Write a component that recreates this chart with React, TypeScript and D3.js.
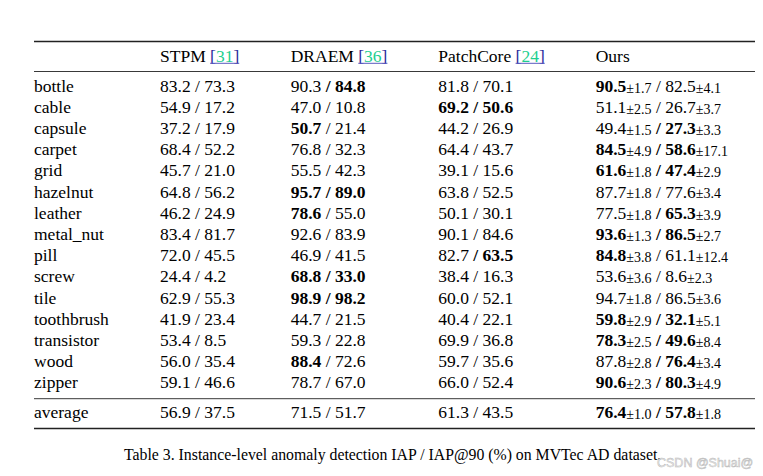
import React, { useEffect, useRef } from "react";
import * as d3 from "d3";

const categories = [
  "bottle", "cable", "capsule", "carpet", "grid", "hazelnut", "leather", "metal_nut",
  "pill", "screw", "tile", "toothbrush", "transistor", "wood", "zipper",
];
const averageLabel = "average";
const methods = ["STPM", "DRAEM", "PatchCore", "Ours"];
const citations = ["31", "36", "24", ""];

// last element of each array is the "average" row
const stpmIAP = [83.2, 54.9, 37.2, 68.4, 45.7, 64.8, 46.2, 83.4, 72.0, 24.4, 62.9, 41.9, 53.4, 56.0, 59.1, 56.9];
const stpmIAP90 = [73.3, 17.2, 17.9, 52.2, 21.0, 56.2, 24.9, 81.7, 45.5, 4.2, 55.3, 23.4, 8.5, 35.4, 46.6, 37.5];
const draemIAP = [90.3, 47.0, 50.7, 76.8, 55.5, 95.7, 78.6, 92.6, 46.9, 68.8, 98.9, 44.7, 59.3, 88.4, 78.7, 71.5];
const draemIAP90 = [84.8, 10.8, 21.4, 32.3, 42.3, 89.0, 55.0, 83.9, 41.5, 33.0, 98.2, 21.5, 22.8, 72.6, 67.0, 51.7];
const patchcoreIAP = [81.8, 69.2, 44.2, 64.4, 39.1, 63.8, 50.1, 90.1, 82.7, 38.4, 60.0, 40.4, 69.9, 59.7, 66.0, 61.3];
const patchcoreIAP90 = [70.1, 50.6, 26.9, 43.7, 15.6, 52.5, 30.1, 84.6, 63.5, 16.3, 52.1, 22.1, 36.8, 35.6, 52.4, 43.5];
const oursIAP = [90.5, 51.1, 49.4, 84.5, 61.6, 87.7, 77.5, 93.6, 84.8, 53.6, 94.7, 59.8, 78.3, 87.8, 90.6, 76.4];
const oursIAP90 = [82.5, 26.7, 27.3, 58.6, 47.4, 77.6, 65.3, 86.5, 61.1, 8.6, 86.5, 32.1, 49.6, 76.4, 80.3, 57.8];
const oursIAPStd = [1.7, 2.5, 1.5, 4.9, 1.8, 1.8, 1.8, 1.3, 3.8, 3.6, 1.8, 2.9, 2.5, 2.8, 2.3, 1.0];
const oursIAP90Std = [4.1, 3.7, 3.3, 17.1, 2.9, 3.4, 3.9, 2.7, 12.4, 2.3, 3.6, 5.1, 8.4, 3.4, 4.9, 1.8];

const caption = "Table 3. Instance-level anomaly detection IAP / IAP@90 (%) on MVTec AD dataset.";
const watermark = "CSDN @Shuai@";

const W = 763;
const H = 476;
const FONT = "'Liberation Serif', 'Times New Roman', serif";
const FS = 17.5;
const SUB_FS = 14;

export default function App() {
  const ref = useRef<SVGSVGElement | null>(null);

  useEffect(() => {
    const svg = d3.select(ref.current);
    svg.selectAll("*").remove();
    const g = svg.append("g").attr("font-family", FONT).attr("fill", "#000");

    const iap = [stpmIAP, draemIAP, patchcoreIAP, oursIAP];
    const iap90 = [stpmIAP90, draemIAP90, patchcoreIAP90, oursIAP90];
    const stds1: (number[] | null)[] = [null, null, null, oursIAPStd];
    const stds2: (number[] | null)[] = [null, null, null, oursIAP90Std];

    const rows = [...categories, averageLabel];
    const y = d3.scalePoint<string>().domain(categories).range([91.7, 388.3]);
    const rowY = (r: string) => (r === averageLabel ? 418 : (y(r) as number));
    const x = d3.scaleOrdinal<string, number>().domain(methods).range([160, 290.7, 438.3, 595.7]);
    const labelX = 34;

    const xl = 34, xr = 755;
    const rule = (yy: number, w: number) =>
      g.append("line").attr("x1", xl).attr("x2", xr).attr("y1", yy).attr("y2", yy)
        .attr("stroke", "#222").attr("stroke-width", w);
    rule(41.5, 1.4);
    rule(71.5, 0.9);
    rule(398.7, 0.9);
    rule(428.5, 1.4);

    // header
    methods.forEach((m, j) => {
      const cite = citations[j];
      const t = g.append("text").attr("x", x(m)).attr("y", 61.5).attr("font-size", FS)
        .style("white-space", "pre");
      t.append("tspan").text(cite ? m + " " : m);
      if (cite) {
        t.append("tspan").attr("fill", "#2b2b9b").text("[");
        t.append("tspan").attr("fill", "#1fcf8f").text(cite);
        t.append("tspan").attr("fill", "#2b2b9b").text("]");
        const node = t.node() as SVGTextElement;
        const n = m.length + 1;
        const x0 = node.getStartPositionOfChar(n).x;
        const x1 = node.getEndPositionOfChar(n + cite.length + 1).x;
        g.append("line").attr("x1", x0).attr("x2", x1).attr("y1", 63.3).attr("y2", 63.3)
          .attr("stroke", "#5a5ac0").attr("stroke-width", 1);
      }
    });

    // body
    rows.forEach((r, i) => {
      const yy = rowY(r);
      g.append("text").attr("x", labelX).attr("y", yy).attr("font-size", FS).text(r);
      const max1 = d3.max(iap, (a) => a[i]) as number;
      const max2 = d3.max(iap90, (a) => a[i]) as number;
      methods.forEach((m, j) => {
        const v1 = iap[j][i];
        const v2 = iap90[j][i];
        const b1 = v1 === max1;
        const b2 = v2 === max2;
        const t = g.append("text").attr("x", x(m)).attr("y", yy).attr("font-size", FS)
          .style("white-space", "pre");
        t.append("tspan").attr("font-weight", b1 ? "bold" : "normal").text(v1.toFixed(1));
        const s1 = stds1[j];
        let shifted = false;
        if (s1) {
          t.append("tspan").attr("font-size", SUB_FS).attr("dy", 0.8).text("±" + s1[i].toFixed(1));
          shifted = true;
        }
        t.append("tspan").attr("dy", shifted ? -0.8 : 0).attr("font-weight", b2 ? "bold" : "normal").text(" / ");
        t.append("tspan").attr("font-weight", b2 ? "bold" : "normal").text(v2.toFixed(1));
        const s2 = stds2[j];
        if (s2) {
          t.append("tspan").attr("font-size", SUB_FS).attr("dy", 0.8).text("±" + s2[i].toFixed(1));
        }
      });
    });

    // caption
    g.append("text").attr("x", 124).attr("y", 459.5).attr("font-size", 15.8).text(caption);

    svg.append("text").attr("x", 657).attr("y", 467).attr("font-size", 12.5)
      .attr("font-family", "'Liberation Sans', Arial, sans-serif")
      .attr("fill", "#f0f0f0").attr("stroke", "#b8b8b8").attr("stroke-width", 0.5)
      .text(watermark);
  }, []);

  return (
    <svg
      ref={ref}
      width={W}
      height={H}
      viewBox={`0 0 ${W} ${H}`}
      style={{ position: "absolute", left: 0, top: 0, background: "#fff" }}
    />
  );
}
